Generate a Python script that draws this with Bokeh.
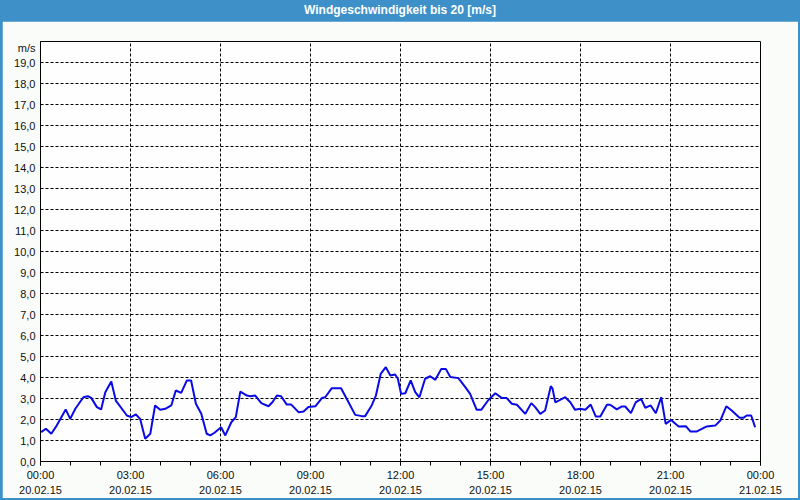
from bokeh.plotting import figure
from bokeh.models import Range1d, FixedTicker, Div
from bokeh.layouts import column
from bokeh.embed import file_html
from bokeh.resources import INLINE

# ---- data ----
times_h = [
    0.02, 0.18, 0.36, 0.54, 0.84, 0.99, 1.16, 1.43, 1.58, 1.69, 1.88, 2.02, 2.16, 2.36, 2.51,
    2.88, 3.02, 3.18, 3.32, 3.49, 3.66, 3.82, 3.99, 4.16, 4.36, 4.51, 4.69, 4.88, 5.02, 5.18,
    5.36, 5.54, 5.66, 5.80, 5.93, 6.02, 6.16, 6.36, 6.51, 6.66, 6.88, 6.99, 7.16, 7.36, 7.60,
    7.73, 7.88, 8.02, 8.21, 8.36, 8.60, 8.77, 8.93, 9.16, 9.38, 9.49, 9.71, 10.02, 10.21, 10.49,
    10.71, 10.82, 11.04, 11.18, 11.34, 11.51, 11.66, 11.82, 11.91, 12.02, 12.16, 12.34, 12.49,
    12.63, 12.82, 12.99, 13.16, 13.36, 13.51, 13.66, 13.93, 14.16, 14.32, 14.54, 14.69, 14.93,
    15.16, 15.38, 15.54, 15.71, 15.88, 16.16, 16.36, 16.49, 16.66, 16.82, 17.01, 17.07, 17.16,
    17.32, 17.49, 17.66, 17.82, 17.99, 18.16, 18.34, 18.51, 18.66, 18.88, 18.99, 19.21, 19.38,
    19.49, 19.68, 19.84, 20.02, 20.16, 20.34, 20.51, 20.69, 20.84, 21.02, 21.27, 21.51, 21.66,
    21.88, 22.21, 22.49, 22.66, 22.86, 23.04, 23.30, 23.43, 23.54, 23.69, 23.82,
]
speed_ms = [
    1.40, 1.56, 1.32, 1.71, 2.48, 2.03, 2.51, 3.06, 3.11, 3.03, 2.59, 2.48, 3.30, 3.81, 2.90,
    2.19, 2.11, 2.24, 2.03, 1.08, 1.32, 2.67, 2.46, 2.51, 2.67, 3.38, 3.27, 3.86, 3.86, 2.75,
    2.27, 1.32, 1.24, 1.37, 1.52, 1.63, 1.24, 1.87, 2.11, 3.33, 3.14, 3.11, 3.14, 2.78, 2.63,
    2.82, 3.14, 3.11, 2.71, 2.71, 2.35, 2.38, 2.59, 2.63, 3.02, 3.06, 3.49, 3.49, 2.98, 2.22,
    2.16, 2.16, 2.67, 3.14, 4.17, 4.49, 4.10, 4.14, 3.95, 3.22, 3.25, 3.86, 3.30,
    3.06, 3.94, 4.06, 3.89, 4.41, 4.41, 4.02, 3.97, 3.54, 3.22, 2.46, 2.46, 2.93,
    3.25, 3.02, 3.02, 2.75, 2.70, 2.27, 2.78, 2.59, 2.27, 2.43, 3.59, 3.46, 2.82,
    2.93, 3.06, 2.82, 2.46, 2.51, 2.46, 2.71, 2.14, 2.14, 2.70, 2.70, 2.48, 2.62,
    2.62, 2.30, 2.82, 2.98, 2.56, 2.67, 2.30, 3.06, 1.79, 1.98, 1.67, 1.68, 1.43,
    1.43, 1.67, 1.71, 1.95, 2.63, 2.43, 2.08, 2.08, 2.19, 2.19, 1.63,
]
x_tick_hours = [0, 3, 6, 9, 12, 15, 18, 21, 24]
x_tick_times = ["00:00", "03:00", "06:00", "09:00", "12:00", "15:00", "18:00", "21:00", "00:00"]
x_tick_dates = ["20.02.15"] * 8 + ["21.02.15"]
x_minor_hours = list(range(25))
y_ticks = list(range(20))
y_tick_labels = [f"{v},0" for v in y_ticks]
unit_label = "m/s"
unit_pos = 19.7
title_text = "Windgeschwindigkeit bis 20 [m/s]"

BLUE = "#3d91c8"
FONT = "Liberation Sans"

p = figure(width=796, height=477, x_range=Range1d(0, 24), y_range=Range1d(0, 20),
           output_backend="svg", toolbar_location=None,
           min_border_left=38, min_border_right=38, min_border_top=20, min_border_bottom=37,
           background_fill_color="#fdfefd", border_fill_color="#fafcfa",
           margin=(0, 2, 2, 2))
p.outline_line_color = "black"
p.outline_line_width = 1
p.outline_line_alpha = 1

# x axis
p.xaxis.ticker = FixedTicker(ticks=x_tick_hours, minor_ticks=x_minor_hours)
p.xaxis.major_label_overrides = {h: f"{t}\n{d}" for h, t, d in zip(x_tick_hours, x_tick_times, x_tick_dates)}
p.xaxis.major_tick_out = 4
p.xaxis.major_tick_in = 0
p.xaxis.minor_tick_out = 4
p.xaxis.minor_tick_in = 0
p.xaxis.major_label_standoff = 3
p.xaxis.major_label_text_font = FONT
p.xaxis.major_label_text_font_size = "11px"
p.xaxis.major_label_text_color = "#101010"
p.xaxis.major_label_text_line_height = 1.25
p.xaxis.axis_line_color = "black"

# y axis
overrides = {v: lab for v, lab in zip(y_ticks, y_tick_labels)}
overrides[unit_pos] = unit_label
p.yaxis.ticker = FixedTicker(ticks=y_ticks + [unit_pos], minor_ticks=[])
p.yaxis.major_label_overrides = overrides
p.yaxis.major_tick_out = 0
p.yaxis.major_tick_in = 0
p.yaxis.minor_tick_out = 0
p.yaxis.minor_tick_in = 0
p.yaxis.major_label_standoff = 5
p.yaxis.major_label_text_font = FONT
p.yaxis.major_label_text_font_size = "11px"
p.yaxis.major_label_text_color = "#101010"
p.yaxis.axis_line_color = "black"

# grids
p.xgrid.ticker = FixedTicker(ticks=x_tick_hours)
p.ygrid.ticker = FixedTicker(ticks=y_ticks)
for g in (p.xgrid, p.ygrid):
    g.grid_line_color = "black"
    g.grid_line_alpha = 1
    g.grid_line_width = 1
    g.grid_line_dash = "3 2"

p.line(times_h, speed_ms, line_color="#0a0ae6", line_width=2)

div = Div(text=title_text, width=800, height=21, margin=(0, 0, 0, 0),
          styles={"background-color": BLUE, "color": "white", "font-weight": "bold",
                  "font-family": "Liberation Sans, sans-serif", "font-size": "12px",
                  "text-align": "center", "line-height": "21px"})

layout = column(div, p, spacing=0, styles={"background-color": BLUE})

with open("out.html", "w") as f:
    f.write(file_html(layout, INLINE))
